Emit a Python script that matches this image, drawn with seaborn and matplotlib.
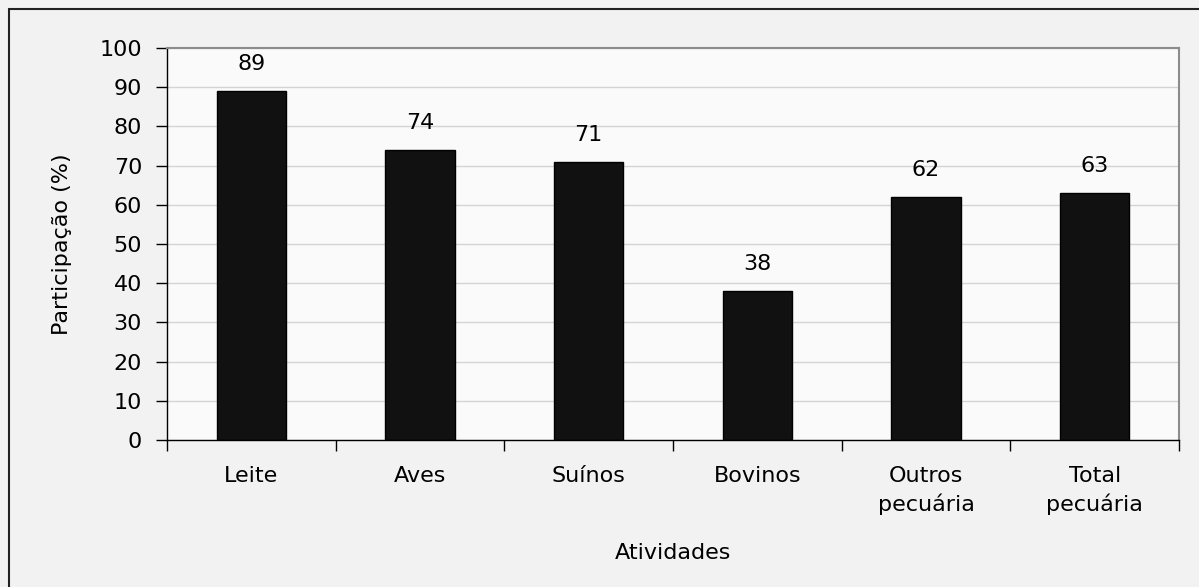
import matplotlib.pyplot as plt
import matplotlib.lines as mlines
import seaborn as sns
import pandas as pd

# Data
atividades = ['Leite', 'Aves', 'Suínos', 'Bovinos', 'Outros\npecuária', 'Total\npecuária']
participacao = [89, 74, 71, 38, 62, 63]

df = pd.DataFrame({'Atividades': atividades, 'Participação': participacao})

sns.set_style('white')
plt.rcParams['font.family'] = ['DejaVu Sans']
plt.rcParams['text.color'] = 'black'
plt.rcParams['axes.labelcolor'] = 'black'
plt.rcParams['xtick.color'] = 'black'
plt.rcParams['ytick.color'] = 'black'

FS = 16

fig = plt.figure(figsize=(11.99, 5.87), dpi=100, facecolor='#f2f2f2')
ax = fig.add_axes([0.1393, 0.2504, 0.8440, 0.6678])
ax.set_facecolor('#fafafa')

sns.barplot(data=df, x='Atividades', y='Participação', color='#111111',
            edgecolor='black', linewidth=1, width=0.41, saturation=1, ax=ax)

# Value labels above bars
for i, v in enumerate(participacao):
    ax.annotate(str(v), (i, v), xytext=(0, 12), textcoords='offset points',
                ha='center', va='bottom', fontsize=FS, color='black')

ax.set_ylim(0, 100)
ax.set_yticks(range(0, 101, 10))
ax.set_xlim(-0.5, len(atividades) - 0.5)
ax.yaxis.grid(True, color='#d4d4d4', linewidth=1)
ax.set_axisbelow(True)

# Ticks: y on left, x between categories
ax.tick_params(axis='y', which='major', direction='out', length=8, width=1,
               left=True, labelsize=FS, pad=10)
ax.set_xticks(range(len(atividades)))
ax.set_xticklabels(atividades, fontsize=FS, linespacing=1.4)
ax.tick_params(axis='x', which='major', length=0, pad=19)
ax.set_xticks([i - 0.5 for i in range(len(atividades) + 1)], minor=True)
ax.tick_params(axis='x', which='minor', direction='out', length=8, width=1, bottom=True)

for s in ['left', 'bottom']:
    ax.spines[s].set_color('black')
    ax.spines[s].set_linewidth(1)
for s in ['top', 'right']:
    ax.spines[s].set_visible(True)
    ax.spines[s].set_color('#8c8c8c')
    ax.spines[s].set_linewidth(1.5)

ax.set_xlabel('Atividades', fontsize=FS, labelpad=20)
ax.set_ylabel('Participação (%)', fontsize=FS, labelpad=20)

# Outer chart border (top and left visible)
fig.add_artist(mlines.Line2D([9 / 1199, 1], [1 - 9 / 587, 1 - 9 / 587],
                             transform=fig.transFigure, color='#222222', linewidth=1.5))
fig.add_artist(mlines.Line2D([9 / 1199, 9 / 1199], [0, 1 - 9 / 587],
                             transform=fig.transFigure, color='#222222', linewidth=1.5))

fig.savefig('out.png', dpi=100, facecolor=fig.get_facecolor())
